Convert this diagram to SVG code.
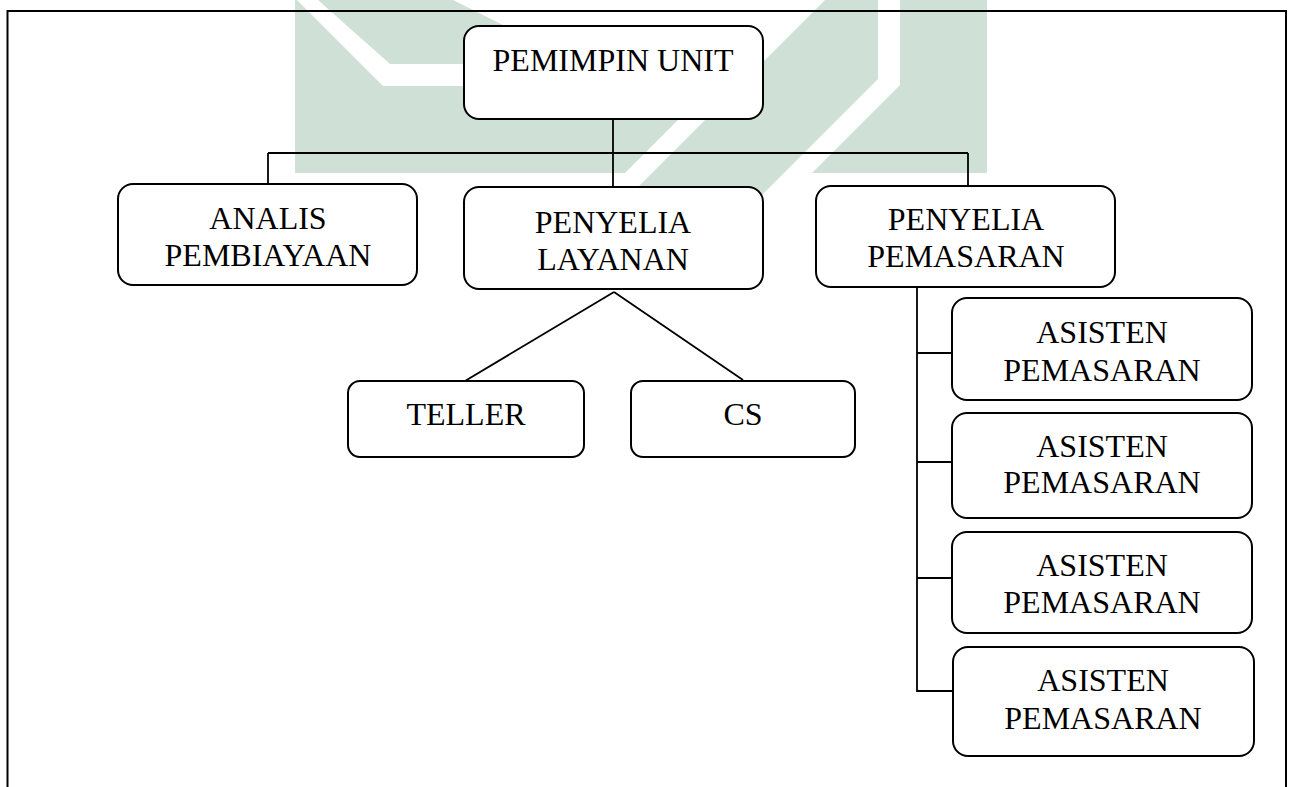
<svg xmlns="http://www.w3.org/2000/svg" width="1292" height="787" viewBox="0 0 1292 787">
<style>
.wm{fill:#cfe1d6;stroke:none}
.box{fill:#ffffff;stroke:#000000;stroke-width:2}
.ln{fill:none;stroke:#000000;stroke-width:1.8}
.frame{fill:none;stroke:#000000;stroke-width:2}
text{font-family:"Liberation Serif","Times New Roman",serif;font-size:32px;fill:#000000;text-anchor:middle}
</style>
<rect width="1292" height="787" fill="#ffffff"/>
<g id="watermark">
<polygon class="wm" points="295,0 297,0 383,86 712,86 625,173 295,173"/>
<polygon class="wm" points="318,0 453,0 581,64 390,64"/>
<polygon class="wm" points="825,0 878,0 878,79 717,240 585,240"/>
<polygon class="wm" points="900,0 987,0 987,173 812,173 900,85"/>
</g>
<g id="frame">
<path class="frame" d="M7.5,787 V11 H1286 V787"/>
</g>
<g id="connectors">
<path class="ln" d="M613,119 V187"/>
<path class="ln" d="M268,153 H968"/>
<path class="ln" d="M268,153 V184"/>
<path class="ln" d="M968,153 V186"/>
<path class="ln" d="M614,292 L465,381"/>
<path class="ln" d="M614,292 L743,380"/>
<path class="ln" d="M917,287 V691 H953"/>
<path class="ln" d="M917,353 H952"/>
<path class="ln" d="M917,462 H952"/>
<path class="ln" d="M917,578 H952"/>
</g>
<g id="pemimpin-unit">
<rect class="box" x="464" y="26" width="299" height="93" rx="15"/>
<text x="613" y="71">PEMIMPIN UNIT</text>
</g>
<g id="analis-pembiayaan">
<rect class="box" x="118" y="184" width="299" height="101" rx="15"/>
<text x="268" y="229">ANALIS</text>
<text x="268" y="266">PEMBIAYAAN</text>
</g>
<g id="penyelia-layanan">
<rect class="box" x="464" y="187" width="299" height="102" rx="15"/>
<text x="613" y="233">PENYELIA</text>
<text x="613" y="270">LAYANAN</text>
</g>
<g id="penyelia-pemasaran">
<rect class="box" x="816" y="186" width="299" height="101" rx="15"/>
<text x="966" y="230">PENYELIA</text>
<text x="966" y="267">PEMASARAN</text>
</g>
<g id="teller">
<rect class="box" x="348" y="381" width="236" height="76" rx="12"/>
<text x="466" y="425">TELLER</text>
</g>
<g id="cs">
<rect class="box" x="631" y="381" width="224" height="76" rx="12"/>
<text x="743" y="425">CS</text>
</g>
<g id="asisten-pemasaran-1">
<rect class="box" x="952" y="298" width="300" height="102" rx="15"/>
<text x="1102" y="343">ASISTEN</text>
<text x="1102" y="381">PEMASARAN</text>
</g>
<g id="asisten-pemasaran-2">
<rect class="box" x="952" y="413" width="300" height="105" rx="15"/>
<text x="1102" y="457">ASISTEN</text>
<text x="1102" y="493">PEMASARAN</text>
</g>
<g id="asisten-pemasaran-3">
<rect class="box" x="952" y="532" width="300" height="101" rx="15"/>
<text x="1102" y="576">ASISTEN</text>
<text x="1102" y="613">PEMASARAN</text>
</g>
<g id="asisten-pemasaran-4">
<rect class="box" x="953" y="647" width="301" height="109" rx="15"/>
<text x="1103" y="691">ASISTEN</text>
<text x="1103" y="729">PEMASARAN</text>
</g>
</svg>
